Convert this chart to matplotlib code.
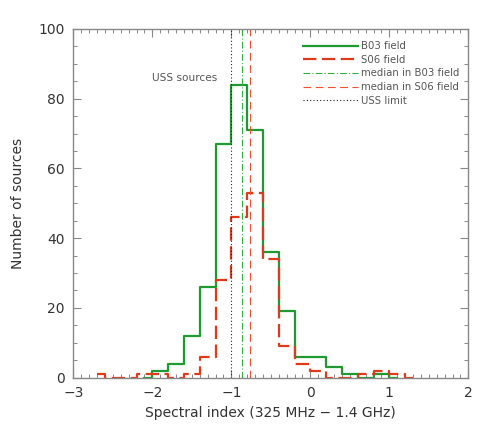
import matplotlib
matplotlib.use('Agg')
import matplotlib.pyplot as plt
from matplotlib.ticker import MultipleLocator

# bin centres (width 0.2) and counts
b03_x = [-2.1, -1.9, -1.7, -1.5, -1.3, -1.1, -0.9, -0.7, -0.5, -0.3, -0.1, 0.1, 0.3, 0.5, 0.7, 0.9, 1.1]
b03_n = [0, 2, 4, 12, 26, 67, 84, 71, 36, 19, 6, 6, 3, 1, 0, 1, 0]

s06_x = [-2.7, -2.5, -2.3, -2.1, -1.9, -1.7, -1.5, -1.3, -1.1, -0.9, -0.7, -0.5, -0.3, -0.1,
         0.1, 0.3, 0.5, 0.7, 0.9, 1.1, 1.3]
s06_n = [1, 0, 0, 1, 1, 0, 1, 6, 28, 46, 53, 34, 9, 4, 2, 0, 0, 1, 2, 1, 0]

median_b03 = -0.86
median_s06 = -0.76
uss_limit = -1.0

green = '#1f9a30'
red = '#e03a1a'
grey = '#555555'

fig = plt.figure(figsize=(4.91, 4.36), dpi=100)
ax = fig.add_axes([0.1493, 0.1338, 0.8045, 0.7997])

ax.step(b03_x, b03_n, where='mid', color=green, lw=1.6, label='B03 field')
ax.step(s06_x, s06_n, where='mid', color=red, lw=1.6, dashes=(6, 2.5), label='S06 field')
ax.axvline(median_b03, color='#2fb040', lw=0.8, dashes=(6, 2, 1, 2), label='median in B03 field')
ax.axvline(median_s06, color='#f05030', lw=0.8, dashes=(7, 4), label='median in S06 field')
ax.axvline(uss_limit, color='#222222', lw=0.8, dashes=(1, 2), label='USS limit')

ax.text(-2.0, 86, 'USS sources', fontsize=7.6, color=grey, va='center', ha='left')

ax.set_xlim(-3, 2)
ax.set_ylim(0, 100)
ax.xaxis.set_major_locator(MultipleLocator(1))
ax.xaxis.set_minor_locator(MultipleLocator(0.1))
ax.yaxis.set_major_locator(MultipleLocator(20))
ax.yaxis.set_minor_locator(MultipleLocator(5))
ax.tick_params(which='both', direction='in', top=True, right=True, colors='#888888',
               labelcolor='#333333', labelsize=10)
ax.tick_params(which='major', length=6, width=0.8, pad=6)
ax.tick_params(which='minor', length=3, width=0.7)
for s in ax.spines.values():
    s.set_color('#888888')
    s.set_linewidth(1.0)

ax.set_xlabel('Spectral index (325 MHz \u2212 1.4 GHz)', fontsize=10, color='#333333', labelpad=4)
ax.set_ylabel('Number of sources', fontsize=10, color='#333333', labelpad=10)

leg = ax.legend(loc='upper left', bbox_to_anchor=(0.5815, 0.965), frameon=False, fontsize=7.3,
                handlelength=5.4, handletextpad=0.35, labelspacing=0.36,
                borderpad=0, borderaxespad=0)
for t in leg.get_texts():
    t.set_color(grey)

fig.savefig('out.png', dpi=100)
